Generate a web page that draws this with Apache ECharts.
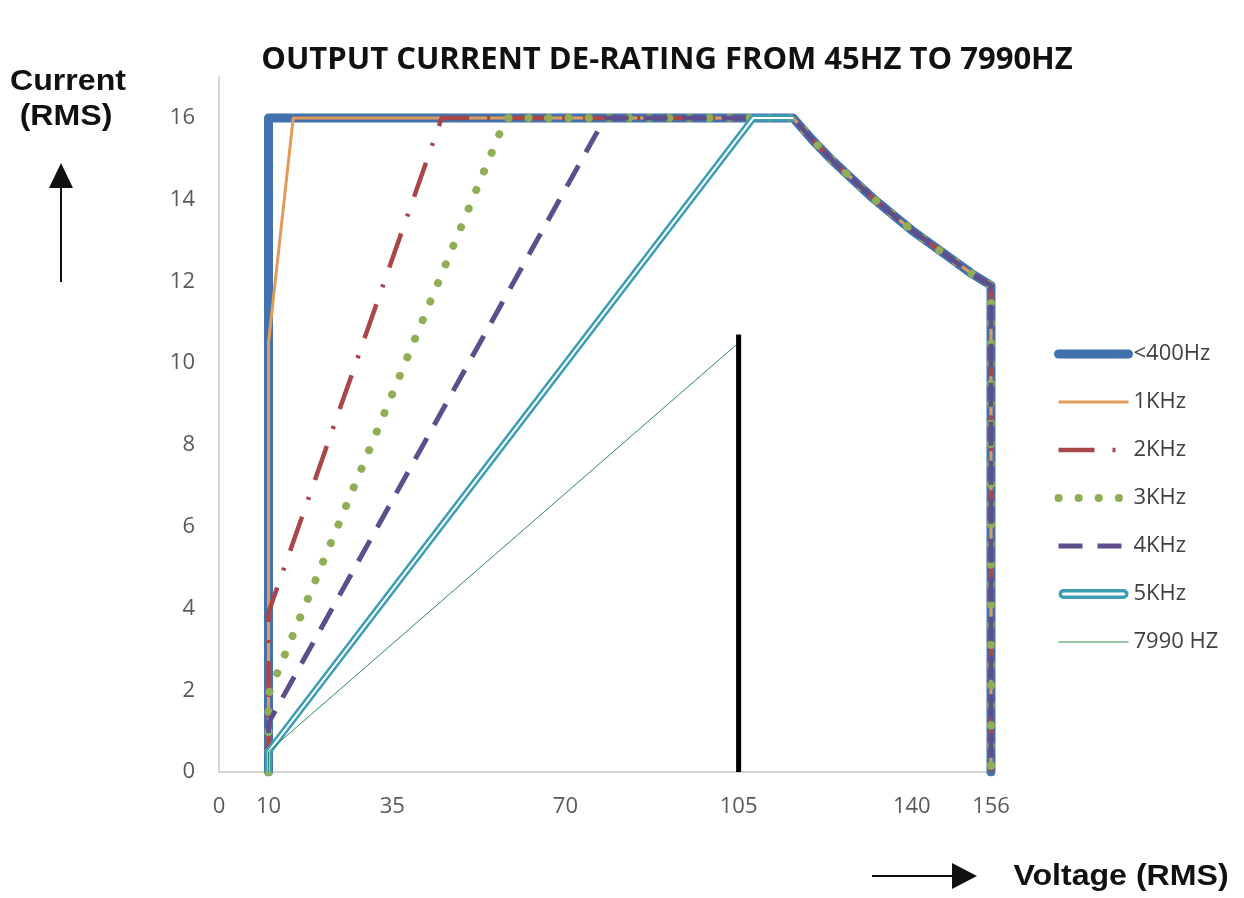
<!DOCTYPE html>
<html>
<head>
<meta charset="utf-8">
<script src="https://cdn.jsdelivr.net/npm/echarts@6/dist/echarts.min.js"></script>
<style>
  html, body { margin: 0; padding: 0; background: #fff; }
  #chart { width: 1244px; height: 898px; }
</style>
</head>
<body>
<div id="chart"></div>
<script>
// tick labels
var xTicks = [0, 10, 35, 70, 105, 140, 156];
var yTicks = [0, 2, 4, 6, 8, 10, 12, 14, 16];

// shared de-rating tail (constant power region)
var tailX = [116, 120, 124, 128, 132, 136, 140, 144, 148, 152, 156, 156];
var tailY = [16, 15.45, 14.95, 14.5, 14.05, 13.65, 13.25, 12.9, 12.55, 12.2, 11.9, 0];

// knee of each curve
var lt400X = [10, 10];      var lt400Y = [0, 16];
var k1X = [10, 10, 15];     var k1Y = [0, 10.5, 16];
var k2X = [10, 10, 45];     var k2Y = [0, 3.9, 16];
var k3X = [10, 10, 58];     var k3Y = [0, 1.9, 16];
var k4X = [10, 10, 78];     var k4Y = [0, 1.2, 16];
var k5X = [10, 10, 108, 116];  var k5Y = [0, 0.5, 16, 16];
var hz7990X = [10, 10, 105];  var hz7990Y = [0, 0.5, 10.5];
var markX = [105, 105];     var markY = [0, 10.7];

function pairs(xs, ys) {
  var out = [];
  for (var i = 0; i < xs.length; i++) { out.push([xs[i], ys[i]]); }
  return out;
}
function withTail(xs, ys) {
  return pairs(xs, ys).concat(pairs(tailX, tailY));
}

var chart = echarts.init(document.getElementById('chart'));

var txt = '#404040';
var tickFont = { fontFamily: 'Open Sans', fontSize: 22, color: '#595959' };
var nameFont = 'bold 30px "Liberation Sans"';

chart.setOption({
  animation: false,
  backgroundColor: '#fff',
  title: {
    text: 'OUTPUT CURRENT DE-RATING FROM 45HZ TO 7990HZ',
    left: 662,
    textAlign: 'center',
    top: 40,
    textStyle: { fontFamily: 'Open Sans', fontWeight: 'bold', fontSize: 31, color: '#111' }
  },
  grid: { left: 219, right: 253, top: 77, bottom: 126 },
  legend: {
    orient: 'vertical',
    left: 1054,
    top: 343,
    padding: 0,
    itemWidth: 70,
    itemHeight: 14,
    itemGap: 26,
    lineStyle: { width: 'inherit' },
    itemStyle: { opacity: 0 },
    textStyle: { fontFamily: 'Open Sans', fontSize: 22, lineHeight: 20, color: txt },
    data: [
      { name: '<400Hz' },
      { name: '1KHz' },
      { name: '2KHz' },
      { name: '3KHz' },
      { name: '4KHz' },
      { name: '5KHz', itemStyle: { opacity: 1 }, icon: 'path://M5,0 H65 A5,5 0 0 1 65,10 H5 A5,5 0 0 1 5,0 Z M5,3.4 A1.6,1.6 0 0 0 5,6.6 H65 A1.6,1.6 0 0 0 65,3.4 Z' },
      { name: '7990 HZ' }
    ]
  },
  xAxis: {
    type: 'value',
    min: 0,
    max: 156,
    axisLine: { lineStyle: { color: '#c8c8c8', width: 1.5 } },
    axisTick: { show: false },
    splitLine: { show: false },
    axisLabel: Object.assign({ customValues: xTicks, margin: 24 }, tickFont)
  },
  yAxis: {
    type: 'value',
    min: 0,
    max: 17,
    axisLine: { show: true, lineStyle: { color: '#c8c8c8', width: 1.5 } },
    axisTick: { show: false },
    splitLine: { show: false },
    axisLabel: Object.assign({ customValues: yTicks, margin: 24 }, tickFont)
  },
  graphic: [
    { type: 'text', x: 68, y: 82, scaleX: 1.07, style: { text: 'Current', font: nameFont, fill: '#111', align: 'center', verticalAlign: 'middle' } },
    { type: 'text', x: 66, y: 117, scaleX: 1.07, style: { text: '(RMS)', font: nameFont, fill: '#111', align: 'center', verticalAlign: 'middle' } },
    { type: 'line', shape: { x1: 61, y1: 282, x2: 61, y2: 185 }, style: { stroke: '#111', lineWidth: 2 } },
    { type: 'polygon', shape: { points: [[61, 163], [49, 188], [73, 188]] }, style: { fill: '#111' } },
    { type: 'line', shape: { x1: 872, y1: 876, x2: 955, y2: 876 }, style: { stroke: '#111', lineWidth: 2 } },
    { type: 'polygon', shape: { points: [[977, 876], [952, 863], [952, 889]] }, style: { fill: '#111' } },
    { type: 'text', x: 1121, y: 877, scaleX: 1.07, style: { text: 'Voltage (RMS)', font: nameFont, fill: '#111', align: 'center', verticalAlign: 'middle' } }
  ],
  series: [
    {
      name: '<400Hz', type: 'line', symbol: 'none',
      data: withTail(lt400X, lt400Y),
      lineStyle: { color: '#4272AE', width: 9, cap: 'round', join: 'round' },
      itemStyle: { color: '#4272AE' }
    },
    {
      name: '1KHz', type: 'line', symbol: 'none',
      data: withTail(k1X, k1Y),
      lineStyle: { color: '#E19A5A', width: 3 },
      itemStyle: { color: '#E19A5A' }
    },
    {
      name: '2KHz', type: 'line', symbol: 'none',
      data: withTail(k2X, k2Y),
      lineStyle: { color: '#A8464A', width: 4.5, type: [36, 18, 3, 18] },
      itemStyle: { color: '#A8464A' }
    },
    {
      name: '3KHz', type: 'line', symbol: 'none',
      data: withTail(k3X, k3Y),
      lineStyle: { color: '#8FAE55', width: 8, type: [0.1, 20], cap: 'round' },
      itemStyle: { color: '#8FAE55' }
    },
    {
      name: '4KHz', type: 'line', symbol: 'none',
      data: withTail(k4X, k4Y),
      lineStyle: { color: '#5E4E8C', width: 5, type: [24, 15] },
      itemStyle: { color: '#5E4E8C' }
    },
    {
      name: '5KHz', type: 'line', symbol: 'none',
      data: pairs(k5X, k5Y),
      lineStyle: { color: '#3C9DB5', width: 7 },
      itemStyle: { color: '#3C9DB5' }
    },
    {
      name: '5KHz inner', type: 'line', symbol: 'none',
      data: pairs(k5X, k5Y),
      lineStyle: { color: '#ffffff', width: 2 },
      itemStyle: { color: '#ffffff' }
    },
    {
      name: '7990 HZ', type: 'line', symbol: 'none',
      data: pairs(hz7990X, hz7990Y),
      lineStyle: { color: '#2E8B4E', width: 1 },
      itemStyle: { color: '#2E8B4E' }
    },
    {
      name: 'marker', type: 'line', symbol: 'none',
      data: pairs(markX, markY),
      lineStyle: { color: '#000', width: 5 },
      itemStyle: { color: '#000' }
    }
  ]
});
</script>
</body>
</html>
